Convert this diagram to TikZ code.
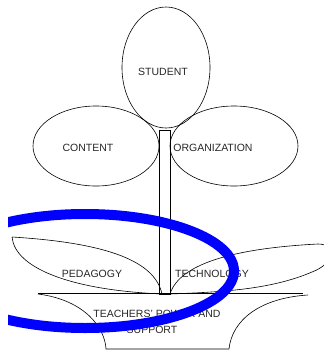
\documentclass[tikz,border=0pt]{standalone}
\usepackage{fontspec}
\setmainfont{Liberation Sans}
\usetikzlibrary{shapes.geometric}
\tikzset{
  petal/.style={draw, ellipse, inner sep=0pt},
  lbl/.style={font=\fontsize{10.5}{12}\selectfont, text=black!85},
}
\begin{document}
\begin{tikzpicture}[x=1pt,y=-1pt,line width=0.6pt]
\useasboundingbox (0,0) rectangle (324,354);

% flower head
\node[petal, minimum width=88, minimum height=121] (student) at (166,67.5) {};
\node[petal, minimum width=126, minimum height=80] (content) at (96,146) {};
\node[petal, minimum width=128, minimum height=80] (organization) at (234,146) {};
\node[lbl] (studentlbl) at (163,72) {STUDENT};
\node[lbl] (contentlbl) at (88,148) {CONTENT};
\node[lbl] (organizationlbl) at (213,148) {ORGANIZATION};

% stem
\draw (159,130) rectangle (170,294);

% leaves
\draw (12,237) .. controls (110,243) and (155,262) .. (162,294)
      (12,237) .. controls (15,268) and (70,290) .. (162,294);
\draw (170,294) .. controls (180,262) and (240,248) .. (318,244)
      .. controls (338,244) and (334,264) .. (312,272)
      .. controls (270,290) and (220,292) .. (170,294);
\node[lbl] (pedagogylbl) at (92,274) {PEDAGOGY};
\node[lbl] (technologylbl) at (212,274) {TECHNOLOGY};

% pot
\draw (38,293) -- (303,293);
\draw (38,294) .. controls (85,300) and (105,328) .. (106,349)
      -- (229,349)
      .. controls (232,320) and (260,298) .. (308,295);
\node[lbl] (teacherslbl) at (157,314) {TEACHERS' POWER AND};
\node[lbl] (supportlbl) at (152,330) {SUPPORT};

% blue ring
\begin{scope}
\clip (8,0) rectangle (324,354);
\draw[blue, line width=10] (85,271) ellipse [x radius=149, y radius=57];
\end{scope}
\end{tikzpicture}
\end{document}
